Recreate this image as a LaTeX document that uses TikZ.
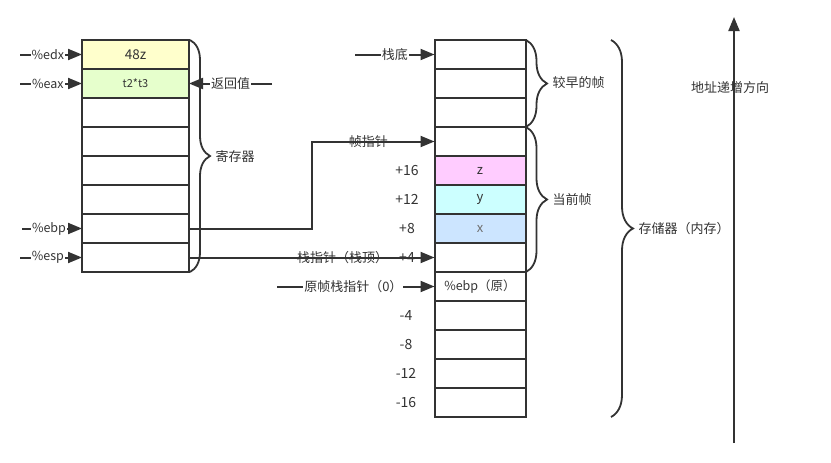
\documentclass[tikz,border=0pt]{standalone}
\usepackage{fontspec}
\setmainfont{Noto Sans CJK SC}
\usetikzlibrary{arrows.meta,decorations.pathreplacing,calc}
\definecolor{ln}{HTML}{333333}
\definecolor{cyel}{HTML}{FFFFCC}
\definecolor{cgrn}{HTML}{E6FFCC}
\definecolor{cpink}{HTML}{FFCCFF}
\definecolor{ccyan}{HTML}{CCFFFF}
\definecolor{cblue}{HTML}{CCE5FF}
\tikzset{
  regcell/.style={draw=ln, line width=2pt, minimum width=107pt, minimum height=29pt, inner sep=0pt, outer sep=0pt},
  stkcell/.style={draw=ln, line width=2pt, minimum width=91pt, minimum height=29pt, inner sep=0pt, outer sep=0pt},
  arr/.style={draw=ln, line width=2pt, arrows={-Triangle[length=14pt,width=11pt,fill=ln]}},
  lbl/.style={fill=white, inner sep=1pt},
  olbl/.style={inner sep=0pt},
  reglbl/.style={fill=white, inner sep=1pt, font=\fontsize{12.5}{14}\selectfont},
  offs/.style={font=\fontsize{14}{16}\selectfont},
  brc/.style={draw=ln, line width=1.8pt, decorate, decoration={brace, amplitude=#1}},
}
\begin{document}
\begin{tikzpicture}[x=1pt,y=-1pt, font=\fontsize{13}{15}\selectfont, every node/.append style={text=ln}]
\useasboundingbox (0,0) rectangle (831,463);

% registers
\node[regcell, fill=cyel, font=\fontsize{13.5}{15}\selectfont] (r0) at (135.5,54.5) {48z};
\node[regcell, fill=cgrn, font=\fontsize{11}{13}\selectfont] (r1) at (135.5,83.5) {t2*t3};
\foreach \i in {2,...,7} \node[regcell] (r\i) at (135.5,{54.5+29*\i}) {};

% stack
\foreach \i in {0,1,2,3,7,9,10,11,12} \node[stkcell] (s\i) at (480,{54.5+29*\i}) {};
\node[stkcell, fill=cpink] (s4) at (480,170.5) {z};
\node[stkcell, fill=ccyan] (s5) at (480,199.5) {y};
\node[stkcell, fill=cblue, text=ln!70] (s6) at (480,228.5) {x};
\node[stkcell, font=\fontsize{12.5}{14}\selectfont] (s8) at (480,286.5) {\%ebp（原）};

% register arrows
\coordinate (edxs) at (20,54.5);
\coordinate (eaxs) at (20,83.5);
\coordinate (ebps) at (22,228.5);
\coordinate (esps) at (20,257.5);
\draw[arr] (edxs) -- node[reglbl, pos=0.45]{\%edx} (r0.west);
\draw[arr] (eaxs) -- node[reglbl, pos=0.45]{\%eax} (r1.west);
\draw[arr] (ebps) -- node[reglbl, pos=0.45]{\%ebp} (r6.west);
\draw[arr] (esps) -- node[reglbl, pos=0.45]{\%esp} (r7.west);
\coordinate (rets) at (272,83.5);
\draw[arr] (rets) -- node[lbl, pos=0.5]{返回值} (r1.east);

% stack arrows
\coordinate (bots) at (355,54.5);
\draw[arr] (bots) -- node[lbl]{栈底} (s0.west);
\coordinate (bend) at (312,141.5);
\draw[arr] (r6.east) -| (bend) -- node[olbl, pos=0.46]{帧指针} (s3.west);
\draw[arr] (r7.east) -- node[olbl, pos=0.626]{栈指针（栈顶）} (s7.west);
\coordinate (olds) at (277,286.5);
\draw[arr] (olds) -- node[lbl, pos=0.485]{原帧栈指针（0）} (s8.west);

% offsets
\node[offs] (o16) at (407,170.5) {+16};
\node[offs] (o12) at (407,199.5) {+12};
\node[offs] (o8) at (407,228.5) {+8};
\node[offs] (o4) at (407,257.5) {+4};
\node[offs] (m4) at (406,315.5) {-4};
\node[offs] (m8) at (406,344.5) {-8};
\node[offs] (m12) at (406,373.5) {-12};
\node[offs] (m16) at (406,402.5) {-16};

% braces
\draw[brc=20pt] (190,40) -- (190,272);
\node[anchor=west] (regl) at (212,157) {寄存器};
\draw[brc=21pt] (526,40) -- (526,127);
\node[anchor=west] (earl) at (549,83) {较早的帧};
\draw[brc=21pt] (526,127) -- (526,272);
\node[anchor=west] (curl) at (549,199.5) {当前帧};
\draw[brc=22pt] (611,40) -- (611,417);
\node[anchor=west] (meml) at (635,228.5) {存储器（内存）};

% address direction
\coordinate (adrb) at (734,443);
\coordinate (adrt) at (734,17);
\node (adrl) at (730,88) {地址递增方向};
\draw[arr] (adrb) -- (adrt);
\end{tikzpicture}
\end{document}
